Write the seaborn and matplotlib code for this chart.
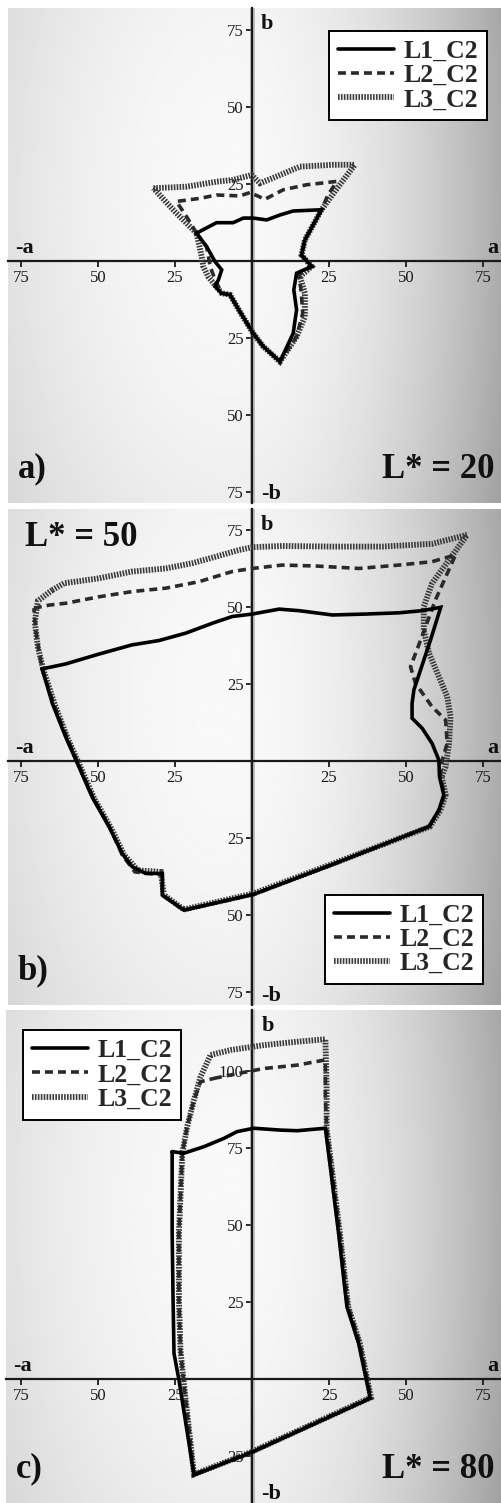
import numpy as np
import pandas as pd
import matplotlib
matplotlib.use("Agg")
import matplotlib.pyplot as plt
import seaborn as sns

# ---------------- data (a*, b* gamut boundaries) ----------------
series_names = ["L1_C2", "L2_C2", "L3_C2"]
panel_letters = ["a)", "b)", "c)"]
panel_titles = ["L* = 20", "L* = 50", "L* = 80"]
x_ticks = [-75, -50, -25, 25, 50, 75]
x_ticklabels = ["75", "50", "25", "25", "50", "75"]
y_ticks_ab = [-75, -50, -25, 25, 50, 75]
y_ticklabels_ab = ["75", "50", "25", "25", "50", "75"]
y_ticks_c = [-25, 25, 50, 75, 100]
y_ticklabels_c = ["25", "25", "50", "75", "100"]

# Panel a (L* = 20)
a_L1_x = [-18.0, -11.5, -6.1, -2.8, 0.4, 4.8, 9.1, 13.4, 22.6, 17.2, 16.1, 19.4, 14.5, 13.6, 14.5, 13.4, 9.1,
          3.7, 0.4, -3.9, -7.1, -9.8, -12.0, -10.9, -9.8, -12.0, -14.7, -18.0]
a_L1_y = [9.0, 12.4, 12.4, 13.9, 13.9, 13.3, 14.9, 16.2, 16.6, 6.8, 1.9, -1.8, -4.0, -9.4, -15.9, -23.5, -32.7,
          -27.8, -23.5, -16.5, -11.0, -10.5, -8.3, -6.2, -2.9, -0.2, 4.6, 9.0]
a_L2_x = [-18.0, -21.0, -24.5, -16.9, -11.5, -3.9, -0.6, 4.2, 10.2, 17.7, 27.5, 24.5, 22.6, 17.2, 16.1, 19.4,
          15.2, 16.0, 16.5, 14.5, 9.1, 3.7, 0.4, -3.9, -7.1, -9.8, -12.0, -13.5, -14.7, -18.0]
a_L2_y = [9.0, 14.0, 19.3, 20.3, 21.4, 21.1, 22.2, 20.0, 23.1, 24.7, 25.8, 21.0, 16.6, 6.8, 1.9, -1.8,
          -4.5, -10.0, -17.0, -24.6, -32.7, -27.8, -23.5, -16.5, -11.0, -10.5, -6.0, -2.0, 4.6, 9.0]
a_L3_x = [-32.0, -21.2, -11.5, -6.1, -0.1, 2.6, 8.0, 15.6, 26.4, 33.4, 28.0, 22.6, 17.2, 16.1, 19.4, 15.6,
          17.2, 17.2, 14.5, 9.1, 3.7, 0.4, -3.9, -7.1, -9.8, -14.2, -15.8, -16.3, -18.0, -25.0, -32.0]
a_L3_y = [23.6, 24.1, 25.7, 26.3, 27.9, 25.2, 27.4, 30.6, 31.2, 31.2, 24.0, 16.6, 6.8, 1.9, -1.8, -5.1,
          -10.5, -18.1, -24.6, -32.7, -27.8, -23.5, -16.5, -11.0, -10.5, -5.1, -1.8, 1.4, 9.0, 16.0, 23.6]

# Panel b (L* = 50)
b_L1_x = [-68.1, -60.5, -49.7, -38.9, -30.2, -21.5, -12.9, -6.4, 0.1, 8.8, 15.3, 26.1, 36.9, 47.7, 55.3, 61.3,
          58.0, 55.1, 52.6, 52.0, 52.0, 55.3, 58.5, 60.7, 60.9, 62.3, 60.7, 57.5, 26.1, 0.5, -22.1, -29.1,
          -29.1, -34.5, -38.9, -42.1, -46.4, -51.9, -56.2, -60.5, -64.8, -68.1]
b_L1_y = [29.9, 31.5, 34.7, 37.7, 39.1, 41.5, 44.7, 46.9, 47.7, 49.3, 48.8, 47.4, 47.7, 48.1, 48.8, 49.9,
          39.3, 30.6, 23.1, 18.7, 13.9, 10.6, 5.7, 0.3, -5.1, -11.0, -15.9, -21.3, -33.6, -43.3, -48.4, -43.5,
          -36.5, -36.5, -34.3, -30.0, -21.3, -11.6, -1.8, 7.9, 18.7, 29.9]
b_L2_x = [-70.8, -65.9, -60.5, -49.7, -38.9, -28.0, -17.2, -6.4, 0.1, 9.8, 20.7, 34.7, 47.7, 58.5, 66.1,
          59.6, 54.8, 51.5, 53.1, 58.5, 62.9, 63.4, 61.8, 61.2, 62.5, 60.9, 57.5, 26.1, 0.5, -22.1, -29.1,
          -29.1, -38.0, -42.1, -46.0, -51.5, -55.8, -60.0, -64.3, -68.1, -69.2, -70.2, -70.8]
b_L2_y = [49.6, 50.6, 51.2, 53.3, 55.0, 56.1, 58.2, 61.5, 62.5, 63.6, 63.3, 62.5, 63.6, 64.7, 66.9,
          52.3, 39.3, 30.6, 25.2, 17.6, 13.3, 5.7, 0.3, -5.1, -11.0, -15.9, -21.3, -33.6, -43.3, -48.4, -43.5,
          -37.0, -36.0, -30.5, -21.8, -12.0, -2.2, 7.5, 18.3, 29.9, 36.0, 42.5, 49.6]
b_L3_x = [-64.8, -61.0, -49.7, -38.9, -28.0, -19.4, -11.8, -4.2, 0.1, 9.8, 26.1, 42.3, 58.5, 69.9,
          64.0, 58.5, 55.8, 55.8, 57.5, 60.7, 63.4, 64.5, 64.0, 62.9, 61.6, 62.9, 61.2, 57.8, 26.1, 0.5,
          -22.1, -28.6, -29.6, -37.0, -41.5, -45.6, -51.2, -55.5, -59.8, -64.0, -67.8, -69.5, -70.5, -69.5, -64.8]
b_L3_y = [55.5, 57.7, 59.3, 61.5, 62.5, 64.2, 66.3, 68.5, 69.4, 69.8, 69.6, 69.6, 70.5, 73.4,
          65.3, 57.7, 50.1, 42.5, 35.0, 27.4, 20.9, 14.4, 5.7, -1.8, -5.1, -11.0, -16.0, -21.3, -33.4, -43.0,
          -48.2, -43.5, -36.0, -35.5, -30.5, -22.0, -12.2, -2.4, 7.3, 18.3, 29.9, 37.0, 45.0, 52.0, 55.5]

# Panel c (L* = 80)
c_L1_x = [-26.0, -22.2, -15.7, -9.2, -4.9, 0.5, 9.2, 14.6, 23.8, 25.4, 28.1, 30.8, 34.6, 38.4, 0.0, -18.9,
          -23.8, -25.4, -25.7, -26.0, -26.0]
c_L1_y = [73.8, 73.3, 75.4, 78.1, 80.3, 81.4, 80.8, 80.6, 81.4, 68.9, 47.3, 23.5, 11.6, -6.3, -23.8, -31.2,
          -0.3, 8.3, 25.6, 47.3, 73.8]
c_L2_x = [-12.4, -7.0, 3.8, 14.6, 23.8, 23.8, 24.2, 25.8, 28.5, 31.2, 35.0, 38.6, 0.0, -18.9, -22.2,
          -23.3, -23.8, -23.8, -22.7, -21.1, -18.9, -16.8, -12.4]
c_L2_y = [97.6, 98.7, 100.8, 101.9, 103.6, 92.0, 81.4, 68.9, 47.3, 23.5, 11.6, -6.0, -23.6, -31.0, -1.4,
          9.4, 25.6, 47.3, 73.3, 82.0, 90.6, 96.5, 97.6]
c_L3_x = [-13.5, -7.0, 3.8, 14.6, 23.8, 24.2, 24.2, 25.8, 28.5, 31.2, 35.0, 38.6, 0.0, -18.9, -22.2,
          -23.3, -23.8, -23.8, -22.7, -21.1, -18.9, -16.8, -13.5]
c_L3_y = [105.2, 106.8, 108.4, 109.5, 110.3, 95.0, 81.4, 68.9, 47.3, 23.5, 11.6, -6.0, -23.6, -31.0, -1.4,
          9.4, 25.6, 47.3, 73.3, 82.0, 90.6, 98.1, 105.2]

panels = [
    [(a_L1_x, a_L1_y), (a_L2_x, a_L2_y), (a_L3_x, a_L3_y)],
    [(b_L1_x, b_L1_y), (b_L2_x, b_L2_y), (b_L3_x, b_L3_y)],
    [(c_L1_x, c_L1_y), (c_L2_x, c_L2_y), (c_L3_x, c_L3_y)],
]

# ---------------- styling ----------------
sns.set_theme(style="white")
plt.rcParams["font.family"] = ["Liberation Serif", "DejaVu Serif"]
SERIF = ["Liberation Serif", "DejaVu Serif"]

W, H = 502, 1503
fig = plt.figure(figsize=(W / 100, H / 100), dpi=100)
fig.patch.set_facecolor("white")

# axes rectangles in pixels (left, top, right, bottom)
rects = [(8, 8, 502, 503), (8, 509, 502, 1005), (6, 1010, 502, 1503)]
xlims = [(-79.2, 81.2), (-79.2, 81.2), (-80.0, 81.2)]
ylims = [(-78.6, 82.1), (-79.2, 81.8), (-40.3, 119.8)]

line_styles = {
    "L1_C2": dict(color="black", linewidth=2.6, linestyle="-"),
    "L2_C2": dict(color="#2a2a2a", linewidth=2.6, linestyle=(0, (2.2, 1.4))),
    "L3_C2": dict(color="#3a3a3a", linewidth=4.2, linestyle=(0, (0.28, 0.22))),
}

for i, (rect, data) in enumerate(zip(rects, panels)):
    l, t, r, b = rect
    ax = fig.add_axes([l / W, 1 - b / H, (r - l) / W, (b - t) / H])
    x0, x1 = xlims[i]
    y0, y1 = ylims[i]

    # grey background: light in the middle, darker towards the right edge
    gx = np.linspace(0, 1, 300)
    gy = np.linspace(0, 1, 300)
    GX, GY = np.meshgrid(gx, gy)
    dx = GX - 0.45
    kx = np.where(dx < 0, 0.44, 1.0)
    grad = 0.975 - kx * dx ** 2 - 0.12 * (GY - 0.6) ** 2
    grad = np.clip(grad, 0, 1)
    ax.imshow(grad, extent=(x0, x1, y0, y1), origin="lower", cmap="gray",
              vmin=0, vmax=1, aspect="auto", zorder=0, interpolation="bilinear")

    # a faint halo around the vertical axis
    ax.axvline(0, color="#888888", lw=3.5, alpha=0.5, zorder=1)

    # series: draw L3 first, L1 on top
    for k in [2, 1, 0]:
        xs, ys = data[k]
        name = series_names[k]
        sns.lineplot(x=xs, y=ys, sort=False, estimator=None, ax=ax, label=name,
                     solid_joinstyle="miter", dash_joinstyle="miter", zorder=3 + (2 - k),
                     **line_styles[name])

    ax.set_xlim(x0, x1)
    ax.set_ylim(y0, y1)

    # cross-shaped axes through origin
    for side in ["top", "right"]:
        ax.spines[side].set_visible(False)
    ax.spines["left"].set_position(("data", 0))
    ax.spines["bottom"].set_position(("data", 0))
    for side in ["left", "bottom"]:
        ax.spines[side].set_color("#1a1a1a")
        ax.spines[side].set_linewidth(1.6)
        ax.spines[side].set_zorder(2)

    ax.set_xticks(x_ticks)
    ax.set_xticklabels(x_ticklabels)
    if i < 2:
        ax.set_yticks(y_ticks_ab)
        ax.set_yticklabels(y_ticklabels_ab)
    else:
        ax.set_yticks(y_ticks_c)
        ax.set_yticklabels(y_ticklabels_c)
    ax.tick_params(axis="both", which="major", direction="out", length=4.5, width=1.3,
                   color="#1a1a1a", labelsize=12, labelcolor="#1a1a1a",
                   bottom=True, left=True)
    for lab in ax.get_xticklabels() + ax.get_yticklabels():
        lab.set_family(SERIF)
    ax.tick_params(axis="x", pad=2)
    ax.tick_params(axis="y", pad=1.5)
    ax.set_xlabel("")
    ax.set_ylabel("")
    ax.grid(False)

    # axis names
    bold = dict(fontweight="bold", color="#111111", family=SERIF)
    ax.text(3.0, y1 - 5.3, "b", fontsize=16, ha="left", va="center", **bold)
    ax.text(3.0, y0 + 3.0, "-b", fontsize=16, ha="left", va="center", **bold)
    ax.text(x0 + 2.2, 4.2, "-a", fontsize=16, ha="left", va="center", **bold)
    ax.text(x1 - 1.2, 4.2, "a", fontsize=16, ha="right", va="center", **bold)

    # panel letter and lightness label
    ax.text(0.02, 0.035, panel_letters[i], transform=ax.transAxes, fontsize=25,
            ha="left", va="bottom", **bold)
    if i == 1:
        ax.text(0.035, 0.975, panel_titles[i], transform=ax.transAxes, fontsize=25,
                ha="left", va="top", **bold)
    else:
        ax.text(0.985, 0.035, panel_titles[i], transform=ax.transAxes, fontsize=25,
                ha="right", va="bottom", **bold)

    # legend in order L1, L2, L3
    handles, labels = ax.get_legend_handles_labels()
    order = [labels.index(n) for n in series_names]
    if i == 0:
        loc, anchor = "upper right", (0.970, 0.954)
    elif i == 1:
        loc, anchor = "lower right", (0.962, 0.042)
    else:
        loc, anchor = "upper left", (0.034, 0.959)
    leg = ax.legend([handles[j] for j in order], [labels[j] for j in order],
                    loc=loc, bbox_to_anchor=anchor, borderaxespad=0,
                    frameon=True, fancybox=False, framealpha=1, facecolor="white",
                    edgecolor="black", handlelength=2.2, handletextpad=0.35,
                    labelspacing=0.05, borderpad=0.35,
                    prop=dict(family=SERIF, weight="bold", size=18.5))
    leg.get_frame().set_linewidth(1.4)
    leg.set_zorder(10)

fig.savefig("out.png", dpi=100, facecolor="white")
